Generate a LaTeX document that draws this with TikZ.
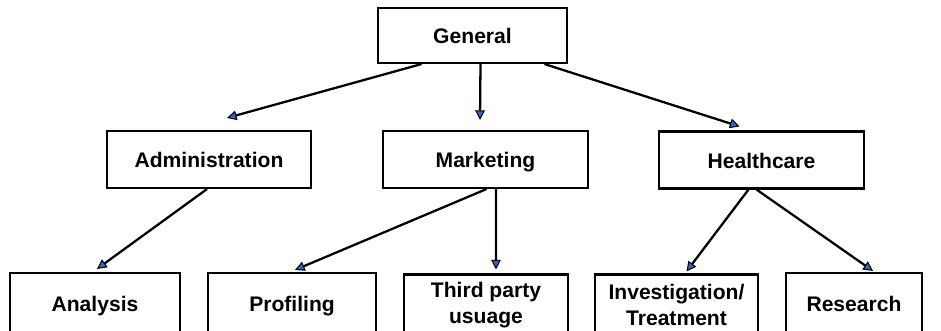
\documentclass[tikz,border=0pt]{standalone}
\usepackage{fontspec}
\setmainfont{Liberation Sans}
\usetikzlibrary{arrows.meta,calc}
\definecolor{tipblue}{RGB}{51,102,204}

\begin{document}
\begin{tikzpicture}[x=0.02cm,y=-0.02cm,
  box/.style={draw,line width=1.2pt,align=center,inner sep=0pt,font=\fontsize{12}{14.4}\selectfont\bfseries},
  one/.style={text height=2ex,text depth=.25ex},
  upper/.style={box,one,minimum height=1.14cm},
  lower/.style={box,minimum height=1.22cm},
  link/.style={line width=1.3pt,-{Triangle[length=5.5pt,width=5.5pt,line width=0.6pt,fill=tipblue]}}]
\useasboundingbox (0,0) rectangle (941,331);
\clip (0,0) rectangle (941,331);
\node[box,one,minimum width=3.78cm,minimum height=1.10cm] (gen) at (472.5,35.5) {General};
\node[upper,minimum width=4.08cm] (adm) at (209,159.5) {Administration};
\node[upper,minimum width=4.10cm] (mkt) at (485.5,159.5) {Marketing};
\node[upper,minimum width=4.10cm] (hc) at (761.5,160) {Healthcare};
\node[lower,one,minimum width=3.40cm] (ana) at (95,303.5) {Analysis};
\node[lower,one,minimum width=3.36cm] (pro) at (292,303.5) {Profiling};
\node[lower,minimum width=3.28cm] (thi) at (486,305) {Third party\\usuage};
\node[lower,minimum width=3.26cm] (inv) at (676.5,305) {Investigation/\\Treatment};
\node[lower,one,minimum width=2.72cm] (res) at (854,303.5) {Research};
% top level
\draw[link] ($(gen.south)+(-51,0)$) -- ($(adm.north)+(18,-12)$);
\draw[link] ($(gen.south)+(8,0)$) -- ($(mkt.north)+(-5.5,-10)$);
\draw[link] ($(gen.south)+(72,0)$) -- ($(hc.north)+(-22,-4)$);
% second level
\draw[link] ($(adm.south)+(-2,0)$) -- ($(ana.north)+(2,-3)$);
\draw[link] ($(mkt.south)+(1,0)$) -- ($(pro.north)+(3,-2)$);
\draw[link] ($(mkt.south)+(10.5,0)$) -- ($(thi.north)+(10,-4)$);
\draw[link] ($(hc.south)+(-13,0)$) -- ($(inv.north)+(10,-2)$);
\draw[link] ($(hc.south)+(-5,0)$) -- ($(res.north)+(19,-1)$);
\end{tikzpicture}
\end{document}
